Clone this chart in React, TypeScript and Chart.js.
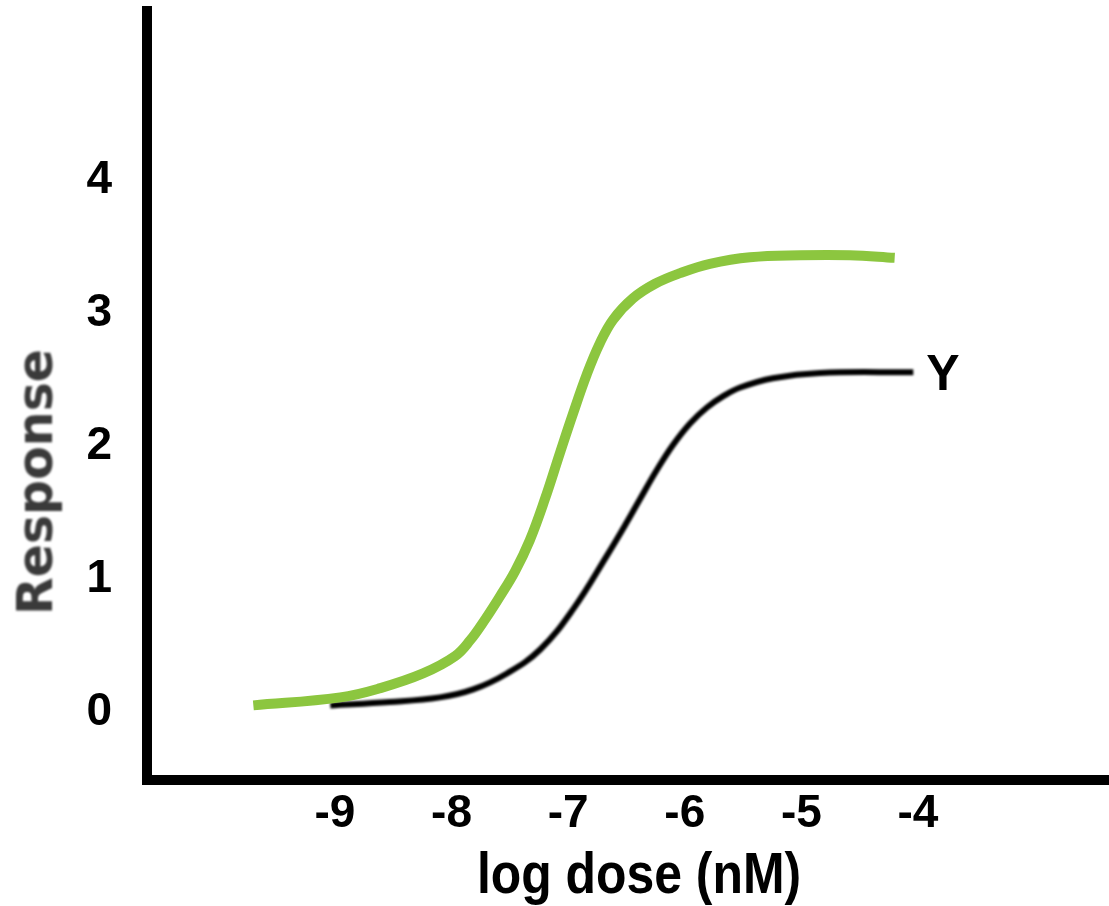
import { useEffect, useRef } from 'react';
import { Chart, registerables } from 'chart.js';

Chart.register(...registerables);

const xTicks = [-9, -8, -7, -6, -5, -4];
const yTicks = [0, 1, 2, 3, 4];

const greenX = [-9.70, -8.955, -8.61, -8.245, -7.97, -7.84, -7.71, -7.585, -7.455, -7.33, -7.20, -7.07, -6.96, -6.84, -6.73, -6.615, -6.445, -6.255, -6.04, -5.785, -5.44, -5.01, -4.585, -4.20];
const greenY = [0.05, 0.11, 0.18, 0.29, 0.42, 0.54, 0.70, 0.87, 1.06, 1.29, 1.60, 1.95, 2.24, 2.54, 2.77, 2.95, 3.11, 3.22, 3.30, 3.37, 3.42, 3.435, 3.435, 3.415];

const blackX = [-9.04, -8.53, -8.10, -7.815, -7.525, -7.24, -6.96, -6.665, -6.495, -6.385, -6.24, -6.10, -5.955, -5.81, -5.67, -5.525, -5.245, -4.84, -4.04];
const blackY = [0.05, 0.075, 0.11, 0.17, 0.29, 0.47, 0.77, 1.18, 1.43, 1.60, 1.82, 2.01, 2.17, 2.29, 2.375, 2.44, 2.51, 2.55, 2.555];

const xTitle = 'log dose (nM)';
const yTitle = 'Response';
const curveLabel = 'Y';

const SANS = '"Liberation Sans", Arial, sans-serif';

export default function App() {
  const ref = useRef<HTMLCanvasElement>(null);

  useEffect(() => {
    if (!ref.current) return;

    const textPlugin = {
      id: 'extraTexts',
      beforeDatasetDraw(chart: any, args: any) {
        if (args.index === 1) {
          chart.ctx.save();
          chart.ctx.filter = 'blur(0.8px)';
        }
      },
      afterDatasetDraw(chart: any, args: any) {
        if (args.index === 1) chart.ctx.restore();
      },
      afterDraw(chart: any) {
        const ctx = chart.ctx;
        const xs = chart.scales.x;
        const ys = chart.scales.y;
        const lx = xs.getPixelForValue(blackX[blackX.length - 1]);
        const ly = ys.getPixelForValue(blackY[blackY.length - 1]);

        // curve label
        ctx.save();
        ctx.fillStyle = '#000';
        ctx.font = `bold 50px ${SANS}`;
        ctx.textAlign = 'left';
        ctx.textBaseline = 'middle';
        ctx.fillText(curveLabel, lx + 13, ly + 4);
        ctx.restore();

        // x axis title (condensed bold)
        ctx.save();
        ctx.translate(639, 893);
        ctx.scale(0.86, 1);
        ctx.font = `bold 58px ${SANS}`;
        ctx.fillStyle = '#000';
        ctx.textAlign = 'center';
        ctx.textBaseline = 'alphabetic';
        ctx.fillText(xTitle, 0, 0);
        ctx.restore();

        // y axis title
        ctx.save();
        ctx.translate(52, 482);
        ctx.rotate(-Math.PI / 2);
        ctx.font = 'bold 49px "DejaVu Sans", sans-serif';
        ctx.fillStyle = '#3a3a3a';
        ctx.textAlign = 'center';
        ctx.textBaseline = 'alphabetic';
        ctx.filter = 'blur(0.8px)';
        ctx.fillText(yTitle, 0, 0);
        ctx.restore();
      },
    };

    const chart = new Chart(ref.current, {
      type: 'line',
      data: {
        datasets: [
          {
            label: 'green',
            data: greenX.map((x, i) => ({ x, y: greenY[i] })),
            borderColor: '#8cc63f',
            borderWidth: 10,
            pointRadius: 0,
            tension: 0.4,
            borderCapStyle: 'butt',
            borderJoinStyle: 'round',
            fill: false,
          },
          {
            label: 'Y',
            data: blackX.map((x, i) => ({ x, y: blackY[i] })),
            borderColor: '#000',
            borderWidth: 6,
            pointRadius: 0,
            tension: 0.4,
            borderCapStyle: 'butt',
            borderJoinStyle: 'round',
            fill: false,
          },
        ],
      },
      options: {
        responsive: false,
        animation: false,
        devicePixelRatio: 1,
        layout: { padding: { top: 11, left: 0, right: 0, bottom: 0 } },
        plugins: {
          legend: { display: false },
          tooltip: { enabled: false },
        },
        scales: {
          x: {
            type: 'linear',
            min: -10.612,
            max: -2.362,
            grid: { display: false, drawTicks: false },
            border: { display: true, color: '#000', width: 10 },
            afterBuildTicks: (a: any) => {
              a.ticks = xTicks.map((v) => ({ value: v }));
            },
            afterFit: (a: any) => {
              a.height = 126;
              a.paddingLeft = 0;
              a.paddingRight = 0;
            },
            ticks: {
              padding: 7,
              color: '#000',
              autoSkip: false,
              maxRotation: 0,
              font: { family: SANS, weight: 'bold', size: 46 },
              callback: (v: any) => String(v),
            },
            title: { display: false, text: xTitle },
          },
          y: {
            type: 'linear',
            min: -0.511,
            max: 5.271,
            grid: { display: false, drawTicks: false },
            border: { display: true, color: '#000', width: 10 },
            afterBuildTicks: (a: any) => {
              a.ticks = yTicks.map((v) => ({ value: v }));
            },
            afterFit: (a: any) => {
              a.width = 147;
              a.paddingTop = 0;
              a.paddingBottom = 0;
            },
            ticks: {
              padding: 35,
              color: '#000',
              font: { family: SANS, weight: 'bold', size: 46 },
              callback: (v: any) => String(v),
            },
            title: { display: false, text: yTitle },
          },
        },
      },
      plugins: [textPlugin],
    } as any);

    return () => chart.destroy();
  }, []);

  return (
    <div style={{ position: 'absolute', left: 0, top: 0, width: 1109, height: 906, background: '#fff' }}>
      <canvas ref={ref} width={1109} height={906} style={{ display: 'block' }} />
    </div>
  );
}
